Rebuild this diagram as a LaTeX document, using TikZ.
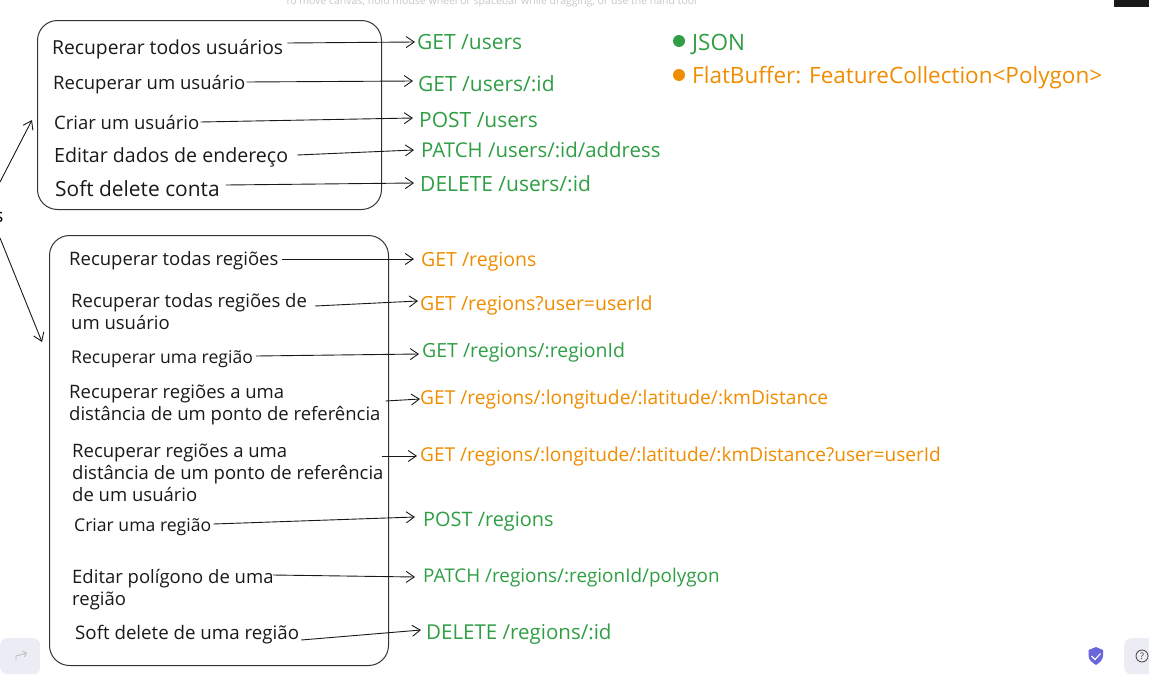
\documentclass[tikz,border=0pt]{standalone}
\usepackage{fontspec}
\setmainfont{Open Sans}
\usepackage{xcolor}
\usetikzlibrary{arrows.meta}
\definecolor{jsongreen}{HTML}{2F9E44}
\definecolor{fborange}{HTML}{F08C00}
\definecolor{uigray}{HTML}{ECECF4}
\definecolor{uishield}{HTML}{6965DB}
\tikzstyle{group} = [rectangle, rounded corners=20pt, draw=black!80, line width=1pt, anchor=north west, inner sep=0pt]
\tikzstyle{action} = [anchor=west, align=left, inner sep=0pt, font=\fontsize{18.5}{22}\selectfont, text=black!90]
\tikzstyle{endpoint} = [anchor=west, inner sep=0pt, font=\fontsize{19.5}{22}\selectfont]
\tikzstyle{json} = [endpoint, text=jsongreen]
\tikzstyle{fb} = [endpoint, text=fborange]
\tikzstyle{big} = [font=\fontsize{21}{22}\selectfont]
\tikzstyle{legend} = [font=\fontsize{22.5}{24}\selectfont]
\tikzstyle{arrow} = [line width=0.9pt, black!90, -{Straight Barb[length=8pt,width=11pt]}]
\tikzstyle{uibox} = [rectangle, rounded corners=7pt, fill=uigray, anchor=north west, inner sep=0pt]

\begin{document}
\begin{tikzpicture}[x=1pt,y=-1pt]
   \useasboundingbox (0,0) rectangle (1149,680);

   \node (hint) [anchor=west, inner sep=0pt, text=black!22, font=\fontsize{10.5}{13}\selectfont] at (285,2) {To move canvas, hold mouse wheel or spacebar while dragging, or use the hand tool};
   \fill [black!90] (1114,0) rectangle (1149,7);

   \node (usersbox) [group, minimum width=344pt, minimum height=189pt] at (37,20) {};
   \node (regionsbox) [group, minimum width=339pt, minimum height=430pt] at (49,235) {};

   % usuarios
   \node (a1) [action, font=\fontsize{19.3}{22}\selectfont] at (52,49) {Recuperar todos usuários};
   \node (a2) [action] at (53,85) {Recuperar um usuário};
   \node (a3) [action] at (54,123) {Criar um usuário};
   \node (a4) [action, font=\fontsize{19.6}{22}\selectfont] at (54,157) {Editar dados de endereço};
   \node (a5) [action, font=\fontsize{20.9}{22}\selectfont] at (55,189) {Soft delete conta};

   \node (e1) [json, big] at (417,42) {GET /users};
   \node (e2) [json, big] at (418,84) {GET /users/:id};
   \node (e3) [json, big] at (419,120) {POST /users};
   \node (e4) [json, font=\fontsize{20.4}{22}\selectfont] at (421,150) {PATCH /users/:id/address};
   \node (e5) [json, big] at (420,184) {DELETE /users/:id};

   % regioes
   \node (b1) [action] at (69,261) {Recuperar todas regiões};
   \node (b2) [action] at (71,312) {Recuperar todas regiões de\\um usuário};
   \node (b3) [action, font=\fontsize{17.6}{22}\selectfont] at (71,359) {Recuperar uma região};
   \node (b4) [action] at (69,405) {Recuperar regiões a uma\\distância de um ponto de referência};
   \node (b5) [action] at (72,473) {Recuperar regiões a uma\\distância de um ponto de referência\\de um usuário};
   \node (b6) [action, font=\fontsize{17.6}{22}\selectfont] at (74,527) {Criar uma região};
   \node (b7) [action] at (72,590) {Editar polígono de uma\\região};
   \node (b8) [action, font=\fontsize{18.7}{22}\selectfont] at (75,635) {Soft delete de uma região};

   \node (f1) [fb] at (421,262) {GET /regions};
   \node (f2) [fb] at (420,305) {GET /regions?user=userId};
   \node (f3) [json] at (422,352) {GET /regions/:regionId};
   \node (f4) [fb, font=\fontsize{19.2}{22}\selectfont] at (420,400) {GET /regions/:longitude/:latitude/:kmDistance};
   \node (f5) [fb, font=\fontsize{19.1}{22}\selectfont] at (420,457) {GET /regions/:longitude/:latitude/:kmDistance?user=userId};
   \node (f6) [json, font=\fontsize{19.9}{22}\selectfont] at (423,522) {POST /regions};
   \node (f7) [json, font=\fontsize{18.9}{22}\selectfont] at (423,578) {PATCH /regions/:regionId/polygon};
   \node (f8) [json, font=\fontsize{20.5}{22}\selectfont] at (426,634) {DELETE /regions/:id};

   % legenda
   \node (dotjson) [circle, fill=jsongreen, minimum size=12pt, inner sep=0pt] at (679,41) {};
   \node (dotfb) [circle, fill=fborange, minimum size=12pt, inner sep=0pt] at (679,75) {};
   \node (json) [json, legend] at (692,44) {JSON};
   \node (flat) [fb, legend] at (692,78) {FlatBuffer: FeatureCollection<Polygon>};

   \draw [arrow] ([xshift=4pt,yshift=6pt]a1.east) -- ([xshift=-2pt]e1.west);
   \draw [arrow] ([xshift=1pt,yshift=3pt]a2.east) -- ([xshift=-5pt,yshift=3pt]e2.west);
   \draw [arrow] ([xshift=1pt,yshift=1pt]a3.east) -- ([xshift=-6pt,yshift=2pt]e3.west);
   \draw [arrow] ([xshift=9pt,yshift=2pt]a4.east) -- ([xshift=-7pt]e4.west);
   \draw [arrow] ([xshift=6pt,yshift=4pt]a5.east) -- ([xshift=-6pt,yshift=1pt]e5.west);
   \draw [arrow] ([xshift=3pt,yshift=2pt]b1.east) -- ([xshift=-7pt,yshift=3pt]f1.west);
   \draw [arrow] ([xshift=8pt,yshift=6pt]b2.east) -- ([xshift=-2pt,yshift=4pt]f2.west);
   \draw [arrow] ([xshift=3pt,yshift=3pt]b3.east) -- ([xshift=-3pt,yshift=-2pt]f3.west);
   \draw [arrow] ([xshift=5pt,yshift=4pt]b4.east) -- ([yshift=1pt]f4.west);
   \draw [arrow] ([xshift=-2pt,yshift=17pt]b5.east) -- ([xshift=-3pt,yshift=1pt]f5.west);
   \draw [arrow] ([xshift=2pt,yshift=3pt]b6.east) -- ([xshift=-8pt,yshift=5pt]f6.west);
   \draw [arrow] ([xshift=-1pt,yshift=15pt]b7.east) -- ([xshift=-8pt,yshift=1pt]f7.west);
   \draw [arrow] ([xshift=2pt,yshift=-5pt]b8.east) -- ([xshift=-5pt,yshift=4pt]f8.west);

   % bordas cortadas
   \coordinate (srcup) at (0,182);
   \coordinate (srcdown) at (0,238);
   \coordinate (tipup) at (32,120);
   \coordinate (tipdown) at (42,342);
   \node (cut) [anchor=center, font=\fontsize{19}{22}\selectfont] at (-1,217) {s};
   \draw [arrow] (srcup) -- (tipup);
   \draw [arrow] (srcdown) -- (tipdown);

   % botoes da interface
   \node (undo) [uibox, minimum width=40pt, minimum height=36pt] at (0,638) {};
   \draw [black!25, line width=0.9pt, -{Straight Barb[length=3pt,width=6pt]}] (16,660) -- (16,656) -- (27,653);
   \path [fill=uishield] (1096,647) -- (1103,650) -- (1103,656) .. controls (1103,660) and (1099,663) .. (1096,665) .. controls (1093,663) and (1088.5,660) .. (1088.5,656) -- (1088.5,650) -- cycle;
   \draw [white, line width=1.1pt] (1091.5,656) -- (1095,659.5) -- (1100.5,653.5);
   \node (help) [uibox, minimum width=30pt, minimum height=36pt] at (1124,638) {};
   \node (helpmark) [circle, draw=black!75, line width=0.8pt, minimum size=12pt, inner sep=0pt, font=\fontsize{9}{10}\selectfont, text=black!75] at (1142,656) {?};
\end{tikzpicture}
\end{document}
